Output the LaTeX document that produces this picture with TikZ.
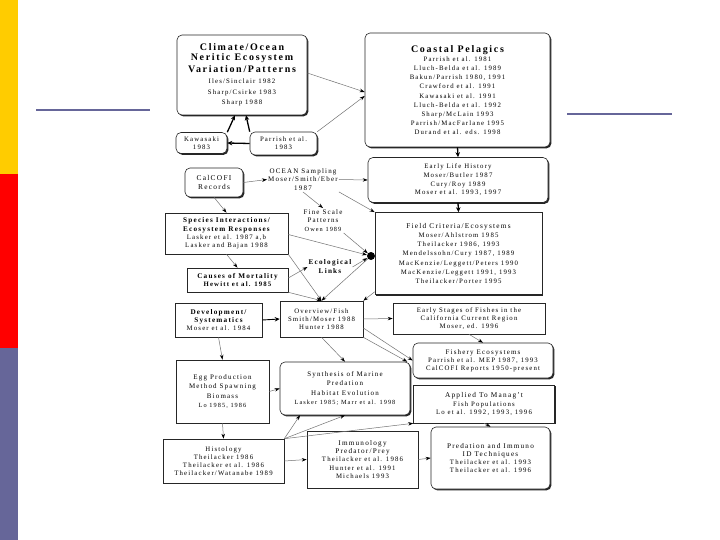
\documentclass[tikz,border=0pt]{standalone}
\usepackage{fontspec}
\setmainfont[LetterSpace=17]{Liberation Serif}
\usetikzlibrary{arrows.meta,shadows}
\definecolor{barY}{HTML}{FFCC00}
\definecolor{barR}{HTML}{FF0000}
\definecolor{barP}{HTML}{666699}
\newcommand{\ttl}{\fontsize{10}{11.5}\selectfont\bfseries}
\newcommand{\mtl}{\fontsize{7.2}{8.8}\selectfont\bfseries}
\newcommand{\sml}{\fontsize{6.3}{8}\selectfont}
\tikzset{
  box/.style={draw=black!85, line width=0.6pt, fill=white, inner sep=1.5pt, align=center,
    font=\fontsize{6.8}{8.2}\selectfont,
    drop shadow={shadow xshift=1.4pt, shadow yshift=-1.4pt, fill=black, opacity=0.85}},
  rbox/.style={box, rounded corners=5pt},
  lbl/.style={align=center, inner sep=1pt, font=\fontsize{7}{8.8}\selectfont},
  con/.style={draw=black!55, line width=0.5pt, -{Stealth[length=5pt,width=3.5pt,color=black]}},
  thk/.style={draw=black, line width=1.3pt, -{Stealth[length=5pt,width=4.5pt]}},
}
\begin{document}
\begin{tikzpicture}[x=1pt,y=-1pt]
\path[use as bounding box, fill=white] (0,0) rectangle (720,540);
% slide decorations
\fill[barY] (0,0) rectangle (18,174);
\fill[barR] (0,174) rectangle (18,348);
\fill[barP] (0,348) rectangle (18,540);
\draw[barP, line width=2.6pt] (36,110) -- (150,110);
\draw[barP, line width=2.6pt] (567,114) -- (672,114);

% boxes
\node[rbox, minimum width=130, minimum height=80] (clim) at (242,75)
  {{\ttl Climate/Ocean}\\[2pt]{\ttl Neritic Ecosystem}\\[2pt]{\ttl Variation/Patterns}\\[2.5pt]
   Iles/Sinclair 1982\\[2.5pt]Sharp/Csirke 1983\\[2.5pt]Sharp 1988};
\node[rbox, minimum width=51, minimum height=21] (kaw) at (201.5,143) {Kawasaki\\1983};
\node[rbox, minimum width=67, minimum height=23] (parr) at (283.5,143.5) {Parrish et al.\\1983};
\node[rbox, minimum width=185, minimum height=114] (coast) at (457.5,90)
  {{\ttl Coastal Pelagics}\\[1pt]Parrish et al. 1981\\[1pt]Lluch-Belda et al. 1989\\[1pt]
   Bakun/Parrish 1980, 1991\\[1pt]Crawford et al. 1991\\[1pt]Kawasaki et al. 1991\\[1pt]
   Lluch-Belda et al. 1992\\[1pt]Sharp/McLain 1993\\[1pt]Parrish/MacFarlane 1995\\[1pt]
   Durand et al. eds. 1998};
\node[rbox, minimum width=180, minimum height=45] (early) at (458,180)
  {Early Life History\\[0.5pt]Moser/Butler 1987\\[0.5pt]Cury/Roy 1989\\[0.5pt]Moser et al. 1993, 1997};
\node[box, minimum width=167, minimum height=82] (field) at (458.5,253.5)
  {{\fontsize{7.3}{9}\selectfont Field Criteria/Ecosystems}\\[1pt]Moser/Ahlstrom 1985\\[1pt]Theilacker 1986, 1993\\[1pt]
   Mendelssohn/Cury 1987, 1989\\[1pt]MacKenzie/Leggett/Peters 1990\\[1pt]MacKenzie/Leggett 1991, 1993\\[1pt]
   Theilacker/Porter 1995};
\node[rbox, minimum width=58, minimum height=29, font=\fontsize{7.4}{9}\selectfont] (calc) at (214,182.5) {CalCOFI\\Records};
\node[lbl] (ocean) at (303,179.5) {OCEAN Sampling\\Moser/Smith/Eber\\1987};
\node[lbl] (fine) at (323,220.5) {Fine Scale\\Patterns\\{\sml Owen 1989}};
\node[box, minimum width=123, minimum height=41] (spec) at (226.5,233.5)
  {{\mtl Species Interactions/}\\{\mtl Ecosystem Responses}\\Lasker et al. 1987 a,b\\Lasker and Bajan 1988};
\node[box, minimum width=101, minimum height=24] (caus) at (237.5,280)
  {{\mtl Causes of Mortality}\\{\bfseries Hewitt et al. 1985}};
\node[lbl, font=\fontsize{7.2}{9}\selectfont\bfseries] (eco) at (330,267) {Ecological\\Links};
\node[circle, fill=black, minimum size=8, inner sep=0] (hub) at (371,256) {};
\node[box, minimum width=87, minimum height=34] (dev) at (218.5,320)
  {{\mtl Development/}\\{\mtl Systematics}\\Moser et al. 1984};
\node[box, minimum width=83, minimum height=36] (over) at (321.5,319)
  {Overview/Fish\\Smith/Moser 1988\\Hunter 1988};
\node[box, minimum width=152, minimum height=31] (stages) at (469,318.5)
  {Early Stages of Fishes in the\\California Current Region\\Moser, ed. 1996};
\node[rbox, minimum width=140, minimum height=35] (fish) at (483,360.5)
  {{\fontsize{7}{8.5}\selectfont Fishery Ecosystems}\\Parrish et al. MEP 1987, 1993\\CalCOFI Reports 1950-present};
\node[rbox, minimum width=130, minimum height=53, font=\fontsize{7}{9.5}\selectfont] (synth) at (345,388.5)
  {Synthesis of Marine\\Predation\\Habitat Evolution\\{\sml Lasker 1985; Marr et al. 1998}};
\node[box, minimum width=93, minimum height=63, font=\fontsize{7}{9.5}\selectfont] (egg) at (222.5,391.5)
  {Egg Production\\Method Spawning\\Biomass\\{\sml Lo 1985, 1986}};
\node[box, minimum width=141, minimum height=38] (appl) at (484,404)
  {{\fontsize{7.3}{9}\selectfont Applied To Manag't}\\Fish Populations\\Lo et al. 1992, 1993, 1996};
\node[box, minimum width=121, minimum height=44] (hist) at (223.5,461)
  {Histology\\Theilacker 1986\\Theilacker et al. 1986\\Theilacker/Watanabe 1989};
\node[box, minimum width=111, minimum height=57] (immu) at (362.5,459.5)
  {{\fontsize{7.2}{9}\selectfont Immunology}\\{\fontsize{7.2}{9}\selectfont Predator/Prey}\\Theilacker et al. 1986\\Hunter et al. 1991\\Michaels 1993};
\node[rbox, minimum width=119, minimum height=62] (pred) at (490.5,458)
  {{\fontsize{7.2}{9}\selectfont Predation and Immuno}\\{\fontsize{7.2}{9}\selectfont ID Techniques}\\Theilacker et al. 1993\\Theilacker et al. 1996};

% connectors
\draw[thk] (kaw.north east) -- ([xshift=-7]clim.south);
\draw[thk] (parr.north west) -- ([xshift=4]clim.south);
\draw[thk] (parr.west) -- (kaw.east);
\draw[con] ([yshift=2]clim.east) -- ([yshift=-2]coast.west);
\draw[con] (parr.north east) -- ([yshift=-6]coast.west);
\draw[thk] (coast.south) -- (early.north);
\draw[thk] (early.south) -- (field.north);
\draw[con] (calc.east) -- (ocean.west);
\draw[con] (ocean.east) -- (early.west);
\draw[con] (ocean.south east) -- (field.north west);
\draw[con] (ocean.south) -- (fine.north);
\draw[con] (calc.south) -- (spec.north);
\draw[con] (spec.south) -- (caus.north);
\draw[con] ([yshift=-1]spec.east) -- (hub);
\draw[con] (fine.south east) -- (hub);
\draw[con] (eco.east) -- (hub);
\draw[con] ([yshift=2]caus.east) -- (eco.west);
\draw[con] (spec.south east) -- (over.north);
\draw[con] (caus.south east) -- (over.north);
\draw[con] (hub) -- (over.north);
\draw[con] ([yshift=3]field.south west) -- (over.north east);
\draw[thk, line width=0.9pt] (dev.east) -- (over.west);
\draw[con] (over.east) -- (stages.west);
\draw[con] ([yshift=-9]over.east) -- (fish.west);
\draw[con] (over.south) -- (synth.north);
\draw[con] (over.south east) -- ([xshift=-3]synth.north east);
\draw[con] (stages.south) -- (fish.north);
\draw[con] (dev.south) -- (egg.north);
\draw[con] (egg.east) -- (synth.west);
\draw[con] (egg.south) -- (hist.north);
\draw[con] (hist.east) -- (immu.west);
\draw[con] (immu.east) -- (pred.west);
\draw[con] (hist.north east) -- (synth.south);
\draw[con] (hist.north east) -- ([xshift=-45]synth.south);
\draw[con] (hist.north east) -- (appl.south west);
\draw[con] (appl.south) -- (pred.north);
\end{tikzpicture}
\end{document}
